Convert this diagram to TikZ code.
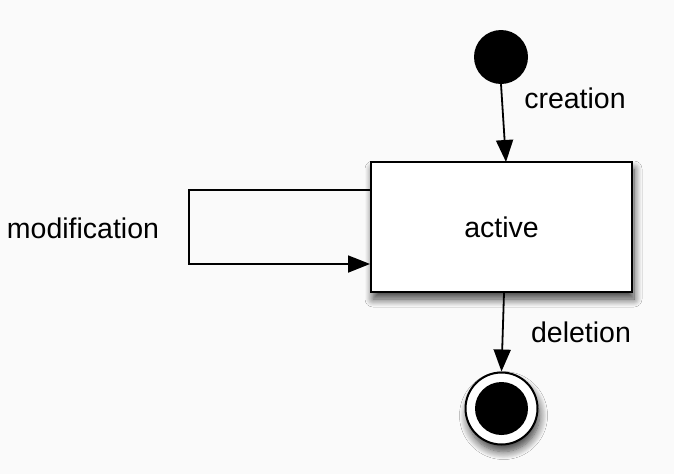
\documentclass[tikz,border=0pt]{standalone}
\usepackage{fontspec}
\setmainfont{Liberation Sans}
\usetikzlibrary{arrows.meta,shadows.blur}
\begin{document}
\begin{tikzpicture}[x=1pt,y=-1pt,
  line/.style={line width=1.8pt},
  arr/.style={line, -{Triangle[length=22pt,width=17pt]}},
  lbl/.style={font=\fontsize{28.5}{34}\selectfont, inner sep=0pt},
  shad/.style={blur shadow={shadow xshift=2pt, shadow yshift=-7pt, shadow blur steps=10, shadow blur radius=8pt, shadow opacity=75}},
  statebox/.style={draw, line width=2pt, fill=white, minimum width=261pt, minimum height=130pt, inner sep=0pt, shad},
  initial/.style={circle, fill=black, minimum size=54pt, inner sep=0pt},
  final/.style={circle, draw, line width=2pt, fill=white, minimum size=72pt, inner sep=0pt, shad},
  finalin/.style={circle, fill=black, minimum size=53pt, inner sep=0pt}]
\fill[white!98!black] (0,0) rectangle (674,474);
\useasboundingbox (0,0) rectangle (674,474);
\node[initial] (start) at (501,57) {};
\node[statebox] (active) at (501.5,227) {};
\node[lbl] at (active.center) {active};
\node[final] (end) at (501.5,408.5) {};
\node[finalin] (endin) at (end.center) {};
\coordinate (ctop) at (506,162);
\draw[arr] (start.south) -- (ctop);
\node[lbl] (creation) at (575,98) {creation};
\coordinate (lout) at (active.west |- 0,190);
\coordinate (lin) at (active.west |- 0,264);
\draw[arr] (lout) -- (189,190) -- (189,264) -- (lin);
\node[lbl] (modification) at (83,228) {modification};
\draw[arr] (active.south -| 504,0) -- (end.north);
\node[lbl] (deletion) at (581,332) {deletion};
\end{tikzpicture}
\end{document}
